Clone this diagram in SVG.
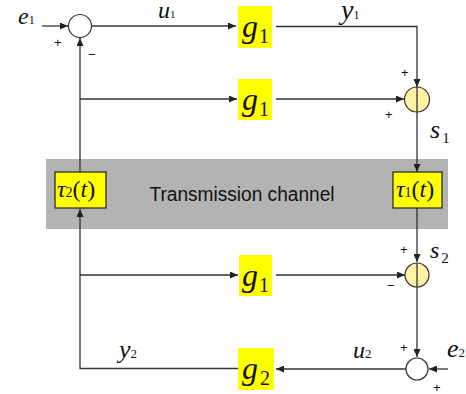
<svg xmlns="http://www.w3.org/2000/svg" width="466" height="394" viewBox="0 0 466 394">
<style>
.ln{fill:none;stroke:#333;stroke-width:1.3}
.sum{fill:#fff;stroke:#333;stroke-width:1.2}
.sumy{fill:#FFF3A3;stroke:#333;stroke-width:1.2}
.gbox{fill:#FFFF00;stroke:none}
.tbox{fill:#FFFF00;stroke:#222;stroke-width:1.2}
.m{font-family:"Liberation Serif",serif;font-style:italic;fill:#111}
.sub{font-family:"Liberation Serif",serif;font-style:normal;fill:#111}
.sg{font-family:"Liberation Sans",sans-serif;font-size:13px;fill:#111}
.tc{font-family:"Liberation Sans",sans-serif;font-size:20px;fill:#111}
</style>
<defs>
<marker id="ar" markerUnits="userSpaceOnUse" markerWidth="8" markerHeight="7" refX="8" refY="3.5" orient="auto">
<path d="M0,0 L8,3.5 L0,7 z" fill="#222"/>
</marker>
</defs>
<rect width="466" height="394" fill="#fff"/>
<g id="channel">
<rect x="46" y="159" width="402" height="70" fill="#B3B3B3"/>
<text class="tc" x="242" y="201" text-anchor="middle" textLength="185" lengthAdjust="spacingAndGlyphs">Transmission channel</text>
</g>
<g id="connectors">
<line class="ln" x1="42" y1="26" x2="68" y2="26" marker-end="url(#ar)"/>
<line class="ln" x1="91" y1="26" x2="236" y2="26" marker-end="url(#ar)"/>
<polyline class="ln" points="276,26.5 417,26.5 417,87" marker-end="url(#ar)"/>
<line class="ln" x1="80" y1="99" x2="237" y2="99" marker-end="url(#ar)"/>
<line class="ln" x1="276" y1="99" x2="404" y2="99" marker-end="url(#ar)"/>
<line class="ln" x1="80" y1="172" x2="80" y2="38" marker-end="url(#ar)"/>
<line class="ln" x1="417" y1="112" x2="417" y2="172" marker-end="url(#ar)"/>
<line class="ln" x1="417" y1="208" x2="417" y2="262" marker-end="url(#ar)"/>
<line class="ln" x1="80" y1="275" x2="238" y2="275" marker-end="url(#ar)"/>
<line class="ln" x1="276" y1="275" x2="405" y2="275" marker-end="url(#ar)"/>
<line class="ln" x1="417" y1="287" x2="417" y2="357" marker-end="url(#ar)"/>
<line class="ln" x1="448" y1="369" x2="429" y2="369" marker-end="url(#ar)"/>
<line class="ln" x1="406" y1="369" x2="276" y2="369" marker-end="url(#ar)"/>
<polyline class="ln" points="238,368.5 80,368.5 80,209" marker-end="url(#ar)"/>
</g>
<g id="sum1">
<circle class="sum" cx="80" cy="26" r="11.5"/>
<text class="sg" x="54" y="47">+</text>
<text class="sg" x="88" y="59">−</text>
</g>
<g id="sum2">
<circle class="sumy" cx="417" cy="99.5" r="12.5"/>
<line class="ln" x1="417" y1="87" x2="417" y2="112"/>
<text class="sg" x="401" y="77">+</text>
<text class="sg" x="385" y="119">+</text>
</g>
<g id="sum3">
<circle class="sumy" cx="417" cy="275" r="12"/>
<line class="ln" x1="417" y1="263" x2="417" y2="287"/>
<text class="sg" x="400" y="254">+</text>
<text class="sg" x="387" y="290">−</text>
</g>
<g id="sum4">
<circle class="sum" cx="417" cy="369" r="11"/>
<text class="sg" x="400" y="352">+</text>
<text class="sg" x="433" y="392">+</text>
</g>
<g id="g1a">
<rect class="gbox" x="238" y="6" width="34" height="42"/>
<text class="m" x="242" y="37" font-size="32">g</text><text class="sub" x="259" y="43" font-size="20">1</text>
</g>
<g id="g1b">
<rect class="gbox" x="238" y="79" width="34" height="41"/>
<text class="m" x="242" y="110" font-size="32">g</text><text class="sub" x="259" y="116" font-size="20">1</text>
</g>
<g id="g1c">
<rect class="gbox" x="239" y="255" width="33" height="41"/>
<text class="m" x="242" y="286" font-size="32">g</text><text class="sub" x="259" y="292" font-size="20">1</text>
</g>
<g id="g2">
<rect class="gbox" x="238" y="348" width="36" height="42"/>
<text class="m" x="242" y="379" font-size="32">g</text><text class="sub" x="260" y="385" font-size="20">2</text>
</g>
<g id="tau2">
<rect class="tbox" x="55" y="172" width="51" height="36"/>
<text class="m" x="57" y="197" font-size="24">τ<tspan class="sub" font-size="14">2</tspan><tspan font-style="normal">(</tspan>t<tspan font-style="normal">)</tspan></text>
</g>
<g id="tau1">
<rect class="tbox" x="393" y="172" width="49" height="36"/>
<text class="m" x="396" y="197" font-size="24">τ<tspan class="sub" font-size="14">1</tspan><tspan font-style="normal">(</tspan>t<tspan font-style="normal">)</tspan></text>
</g>
<g id="labels">
<text class="m" x="18" y="24" font-size="24">e<tspan class="sub" font-size="12">1</tspan></text>
<text class="m" x="158" y="18" font-size="24">u<tspan class="sub" font-size="11">1</tspan></text>
<text class="m" x="341" y="19" font-size="28">y<tspan class="sub" font-size="12">1</tspan></text>
<text class="m" x="430" y="138" font-size="26">s<tspan class="sub" font-size="15" dx="2" dy="5">1</tspan></text>
<text class="m" x="430" y="258" font-size="24">s<tspan class="sub" font-size="15" dx="2" dy="5">2</tspan></text>
<text class="m" x="119" y="358" font-size="26">y<tspan class="sub" font-size="13">2</tspan></text>
<text class="m" x="353" y="358" font-size="24">u<tspan class="sub" font-size="13">2</tspan></text>
<text class="m" x="447" y="357" font-size="26">e<tspan class="sub" font-size="13">2</tspan></text>
</g>
</svg>
